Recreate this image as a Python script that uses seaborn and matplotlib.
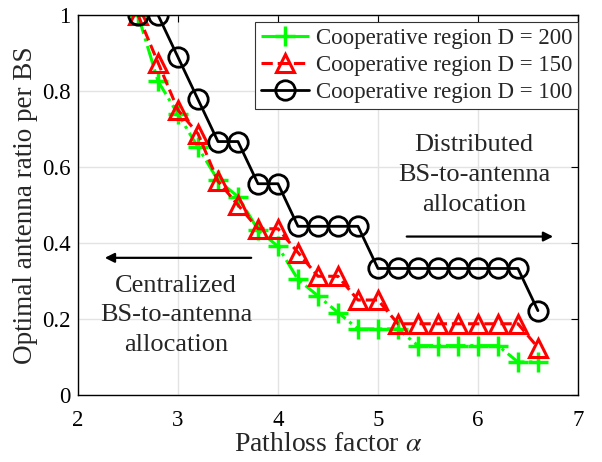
import matplotlib
matplotlib.use('Agg')
import matplotlib.pyplot as plt
import seaborn as sns
import pandas as pd

# data
alpha = [2.6, 2.8, 3.0, 3.2, 3.4, 3.6, 3.8, 4.0, 4.2, 4.4, 4.6,
         4.8, 5.0, 5.2, 5.4, 5.6, 5.8, 6.0, 6.2, 6.4, 6.6]
ratio_d200 = [1.0, 0.826, 0.739, 0.652, 0.565, 0.522, 0.435, 0.391, 0.304, 0.261, 0.217,
              0.174, 0.174, 0.174, 0.130, 0.130, 0.130, 0.130, 0.130, 0.087, 0.087]
ratio_d150 = [1.0, 0.875, 0.75, 0.6875, 0.5625, 0.5, 0.4375, 0.4375, 0.375, 0.3125, 0.3125,
              0.25, 0.25, 0.1875, 0.1875, 0.1875, 0.1875, 0.1875, 0.1875, 0.1875, 0.125]
ratio_d100 = [1.0, 1.0, 0.889, 0.778, 0.667, 0.667, 0.556, 0.556, 0.444, 0.444, 0.444,
              0.444, 0.333, 0.333, 0.333, 0.333, 0.333, 0.333, 0.333, 0.333, 0.222]
labels = ['Cooperative region D = 200', 'Cooperative region D = 150', 'Cooperative region D = 100']

sns.set_style('white')
plt.rcParams['font.family'] = 'serif'
plt.rcParams['font.serif'] = ['Liberation Serif', 'DejaVu Serif']
plt.rcParams['mathtext.fontset'] = 'stix'
plt.rcParams['font.size'] = 16.5

fig = plt.figure(figsize=(6.02, 4.62), dpi=100)
ax = fig.add_axes([0.1296, 0.145, 0.8304, 0.8225])

sns.lineplot(x=alpha, y=ratio_d200, ax=ax, color='#00ff00', linestyle='-.', linewidth=2.2,
             marker='+', markersize=14, markeredgewidth=2.5, markeredgecolor='#00ff00',
             label=labels[0])
sns.lineplot(x=alpha, y=ratio_d150, ax=ax, color='red', linestyle='--', linewidth=2.2,
             marker='^', markersize=13, markeredgewidth=2.2, markerfacecolor='none',
             markeredgecolor='red', label=labels[1])
sns.lineplot(x=alpha, y=ratio_d100, ax=ax, color='black', linestyle='-', linewidth=2.0,
             marker='o', markersize=14, markeredgewidth=2.0, markerfacecolor='none',
             markeredgecolor='black', label=labels[2])

ax.set_xlim(2, 7)
ax.set_ylim(0, 1)
ax.set_xticks([2, 3, 4, 5, 6, 7])
ax.set_yticks([0, 0.2, 0.4, 0.6, 0.8, 1])
ax.set_yticklabels(['0', '0.2', '0.4', '0.6', '0.8', '1'])
ax.grid(True, color='#e3e3e3', linewidth=1.0)
ax.tick_params(direction='in', top=True, right=True, length=5, width=0.8, colors='black',
               labelsize=16.5)
ax.tick_params(axis='x', pad=10.5)
ax.tick_params(axis='y', pad=5.5)
for s in ax.spines.values():
    s.set_color('black')
    s.set_linewidth(1.0)
ax.set_xlabel(r'Pathloss factor $\alpha$', fontsize=20, labelpad=1)
ax.set_ylabel('Optimal antenna ratio per BS', fontsize=19.5, labelpad=3)

leg = ax.legend(loc='upper right', bbox_to_anchor=(1.0, 0.982), borderaxespad=0,
                handlelength=2.1, borderpad=0.25, labelspacing=0.27,
                handletextpad=0.3, fancybox=False, framealpha=1)
leg.get_frame().set_edgecolor('#333333')
leg.get_frame().set_linewidth(0.8)

ax.text(5.96, 0.579, 'Distributed\nBS-to-antenna\nallocation', ha='center', va='center',
        fontsize=19, linespacing=1.45)
ax.annotate('', xy=(6.78, 0.417), xytext=(5.26, 0.417),
            arrowprops=dict(arrowstyle='-|>', color='black', lw=1.6, mutation_scale=14))
ax.text(2.98, 0.21, 'Centralized\nBS-to-antenna\nallocation', ha='center', va='center',
        fontsize=19, linespacing=1.45)
ax.annotate('', xy=(2.24, 0.361), xytext=(3.76, 0.361),
            arrowprops=dict(arrowstyle='-|>', color='black', lw=1.6, mutation_scale=14))

plt.savefig('out.png', dpi=100)
